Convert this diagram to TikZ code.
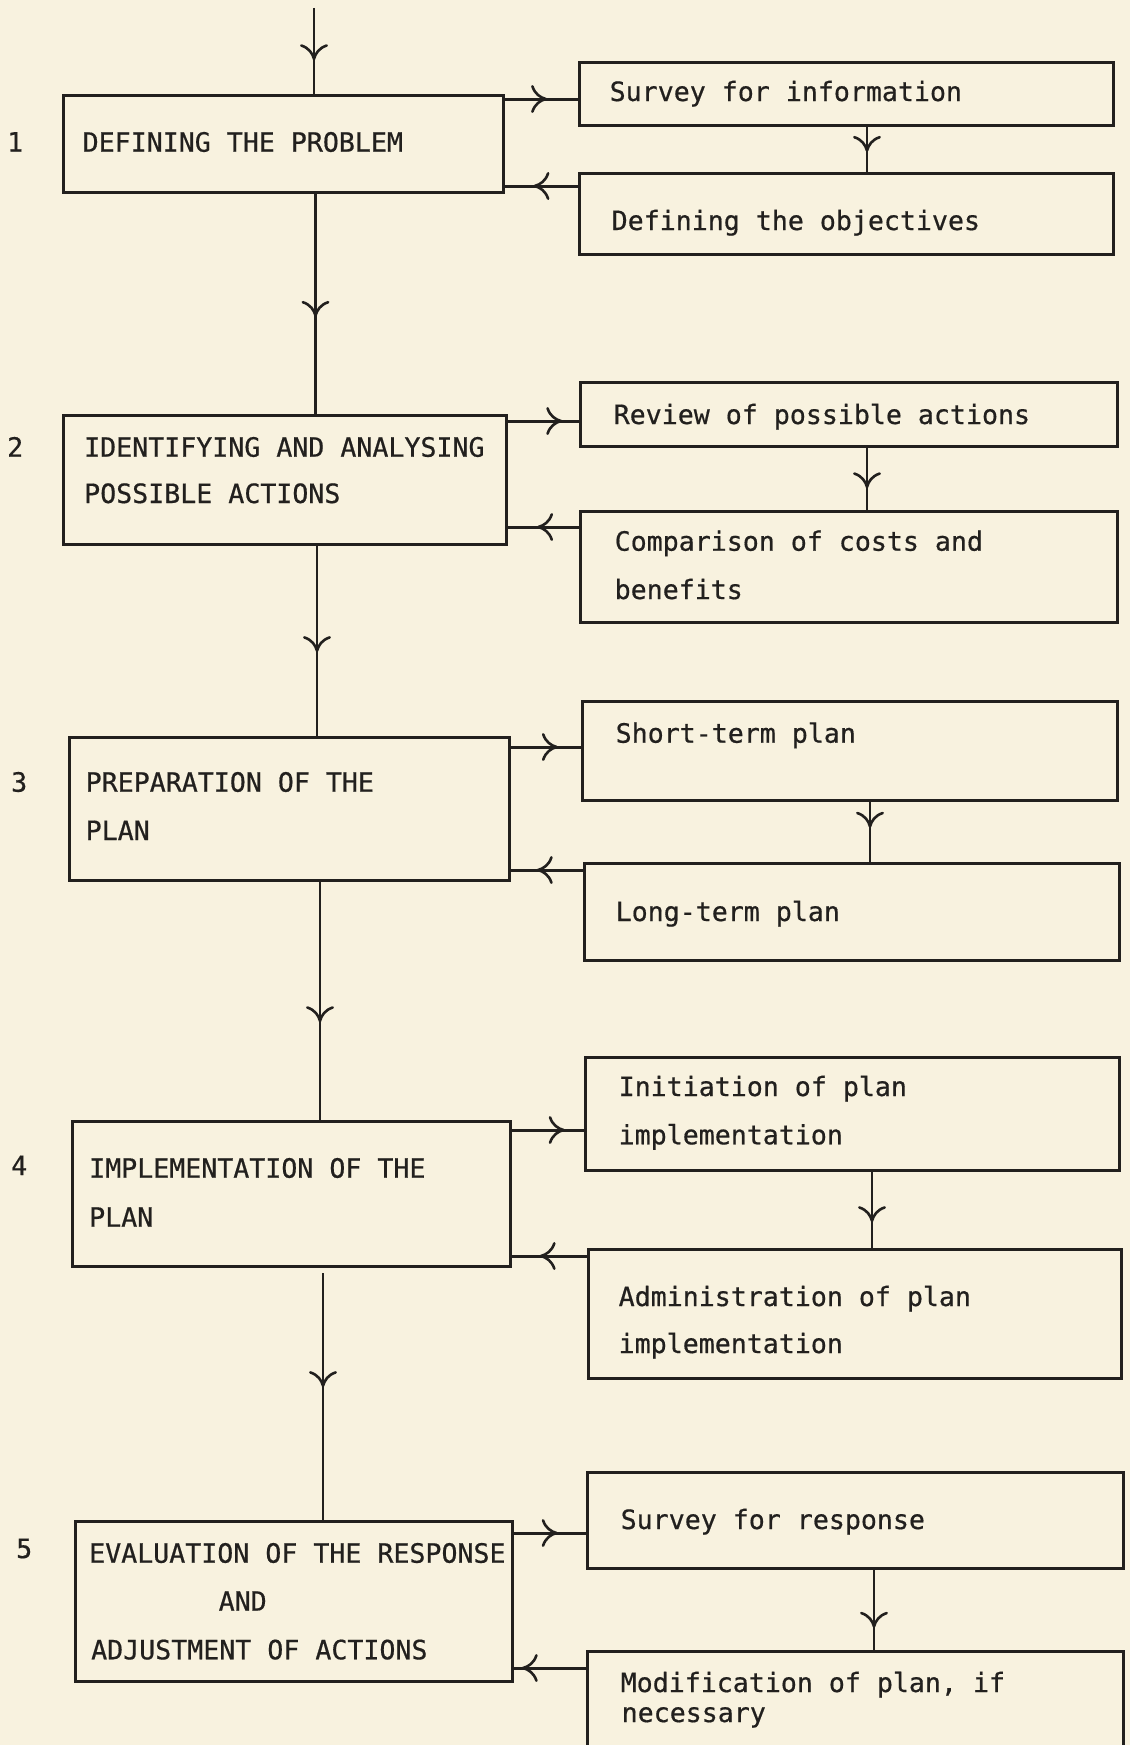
\documentclass[tikz,border=0pt]{standalone}
\usepackage{fontspec}
\setmonofont{DejaVu Sans Mono}[FakeBold=0.6]
\usetikzlibrary{arrows.meta,decorations.markings}
\definecolor{paper}{RGB}{248,242,223}
\definecolor{ink}{RGB}{34,32,30}
\begin{document}
\begin{tikzpicture}[x=1pt,y=-1pt,
  box/.style={draw=ink, line width=3pt, rectangle, inner sep=0pt, outer sep=0pt, anchor=north west},
  txt/.style={text=ink, font=\ttfamily\fontsize{26.6}{32}\selectfont, inner sep=0pt, anchor=base west},
  conn/.style={draw=ink, line width=2.4pt},
  mid/.style={postaction={decorate,decoration={markings,mark=at position #1 with {\arrow[ink,line width=2.6pt]{Computer Modern Rightarrow[length=16pt,width=28pt]}}}}}
]
\fill[paper] (0,0) rectangle (1130,1745);
\useasboundingbox (0,0) rectangle (1130,1745);
\clip (0,0) rectangle (1130,1745);

% boxes
\node[box, minimum width=440pt, minimum height=97pt] (b1) at (63,95) {};
\node[box, minimum width=534pt, minimum height=62pt] (s1) at (579,63) {};
\node[box, minimum width=534pt, minimum height=81pt] (o1) at (579,173) {};
\node[box, minimum width=443pt, minimum height=129pt] (b2) at (63,415) {};
\node[box, minimum width=537pt, minimum height=64pt] (r2) at (580,382) {};
\node[box, minimum width=537pt, minimum height=111pt] (c2) at (580,511) {};
\node[box, minimum width=440pt, minimum height=143pt] (b3) at (69,737) {};
\node[box, minimum width=535pt, minimum height=99pt] (st) at (582,701) {};
\node[box, minimum width=535pt, minimum height=97pt] (lt) at (584,863) {};
\node[box, minimum width=438pt, minimum height=145pt] (b4) at (72,1121) {};
\node[box, minimum width=534pt, minimum height=113pt] (in) at (585,1057) {};
\node[box, minimum width=533pt, minimum height=129pt] (ad) at (588,1249) {};
\node[box, minimum width=437pt, minimum height=160pt] (b5) at (75,1521) {};
\node[box, minimum width=536pt, minimum height=96pt] (sr) at (587,1472) {};
\node[box, minimum width=536pt, minimum height=130pt] (mo) at (587,1651) {};

% texts
\node[txt] (n1) at (7,151.5) {1};
\node[txt] (t1) at (82.5,151.7) {DEFINING THE PROBLEM};
\node[txt] (ts1) at (609.5,101) {Survey for information};
\node[txt] (to1) at (611.5,230) {Defining the objectives};
\node[txt] (n2) at (7,456.7) {2};
\node[txt] (t2a) at (84,456.7) {IDENTIFYING AND ANALYSING};
\node[txt] (t2b) at (84,503) {POSSIBLE ACTIONS};
\node[txt] (tr2) at (613.5,424) {Review of possible actions};
\node[txt] (tc2a) at (614.5,550.7) {Comparison of costs and};
\node[txt] (tc2b) at (614.5,599) {benefits};
\node[txt] (n3) at (11,791.7) {3};
\node[txt] (t3a) at (85.5,791.7) {PREPARATION OF THE};
\node[txt] (t3b) at (85.5,840) {PLAN};
\node[txt] (tst) at (615.5,742.7) {Short-term plan};
\node[txt] (tlt) at (615.5,921) {Long-term plan};
\node[txt] (n4) at (11,1175) {4};
\node[txt] (t4a) at (89,1177.7) {IMPLEMENTATION OF THE};
\node[txt] (t4b) at (89,1226.7) {PLAN};
\node[txt] (tina) at (618.5,1096) {Initiation of plan};
\node[txt] (tinb) at (618.5,1144.3) {implementation};
\node[txt] (tada) at (618.5,1306) {Administration of plan};
\node[txt] (tadb) at (618.5,1353) {implementation};
\node[txt] (n5) at (16,1558) {5};
\node[txt] (t5a) at (89,1562.7) {EVALUATION OF THE RESPONSE};
\node[txt] (t5b) at (218.5,1610.7) {AND};
\node[txt] (t5c) at (91,1659.3) {ADJUSTMENT OF ACTIONS};
\node[txt] (tsr) at (620.5,1529) {Survey for response};
\node[txt] (tmoa) at (620.5,1692) {Modification of plan, if};
\node[txt] (tmob) at (621.5,1722) {necessary};

% helper coordinates
\coordinate (top) at (314,8);
\coordinate (g4) at (323,1273);
\coordinate (v1) at (315.5,0);
\coordinate (v2) at (317,0);
\coordinate (v3) at (320,0);
\coordinate (w1) at (867,0);
\coordinate (w2) at (867,0);
\coordinate (w3) at (870,0);
\coordinate (w4) at (872,0);
\coordinate (w5) at (874,0);
\coordinate (hr1) at (0,99);
\coordinate (hl1) at (0,186);
\coordinate (hr2) at (0,421);
\coordinate (hl2) at (0,527);
\coordinate (hr3) at (0,747);
\coordinate (hl3) at (0,870);
\coordinate (hr4) at (0,1130);
\coordinate (hl4) at (0,1256);
\coordinate (hr5) at (0,1533);
\coordinate (hl5) at (0,1668);

% left column
\draw[conn, mid=0.6] (top) -- (b1.north -| top);
\draw[conn, mid=0.56] (b1.south -| v1) -- (b2.north -| v1);
\draw[conn, mid=0.56] (b2.south -| v2) -- (b3.north -| v2);
\draw[conn, mid=0.59] (b3.south -| v3) -- (b4.north -| v3);
\draw[conn, mid=0.46] (g4) -- (b5.north -| g4);

% right column
\draw[conn, mid=0.56] (s1.south -| w1) -- (o1.north -| w1);
\draw[conn, mid=0.65] (r2.south -| w2) -- (c2.north -| w2);
\draw[conn, mid=0.44] (st.south -| w3) -- (lt.north -| w3);
\draw[conn, mid=0.66] (in.south -| w4) -- (ad.north -| w4);
\draw[conn, mid=0.72] (sr.south -| w5) -- (mo.north -| w5);

% horizontal
\draw[conn, line width=3pt, mid=0.58] (b1.east |- hr1) -- (s1.west |- hr1);
\draw[conn, line width=3pt, mid=0.6] (o1.west |- hl1) -- (b1.east |- hl1);
\draw[conn, line width=3pt, mid=0.76] (b2.east |- hr2) -- (r2.west |- hr2);
\draw[conn, line width=3pt, mid=0.58] (c2.west |- hl2) -- (b2.east |- hl2);
\draw[conn, line width=3pt, mid=0.67] (b3.east |- hr3) -- (st.west |- hr3);
\draw[conn, line width=3pt, mid=0.63] (lt.west |- hl3) -- (b3.east |- hl3);
\draw[conn, line width=3pt, mid=0.73] (b4.east |- hr4) -- (in.west |- hr4);
\draw[conn, line width=3pt, mid=0.62] (ad.west |- hl4) -- (b4.east |- hl4);
\draw[conn, line width=3pt, mid=0.61] (b5.east |- hr5) -- (sr.west |- hr5);
\draw[conn, line width=3pt, mid=0.87] (mo.west |- hl5) -- (b5.east |- hl5);
\end{tikzpicture}
\end{document}
